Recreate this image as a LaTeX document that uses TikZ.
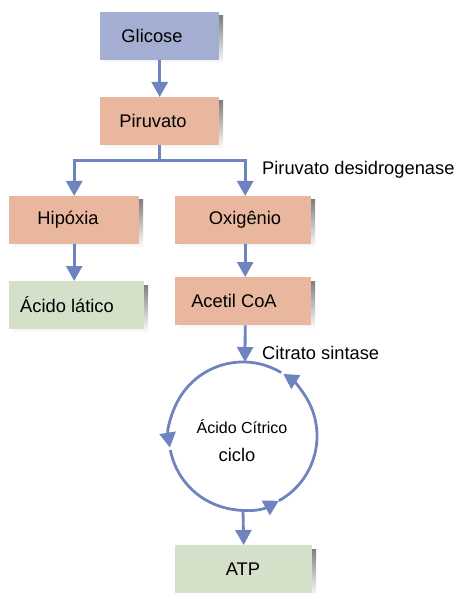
\documentclass[tikz,border=0pt]{standalone}
\usepackage{fontspec}
\setmainfont{Liberation Sans}
\usetikzlibrary{arrows.meta,calc}
\definecolor{flow}{HTML}{6F84BE}
\definecolor{boxblue}{HTML}{A3AED2}
\definecolor{boxsalmon}{HTML}{E9B69E}
\definecolor{boxgreen}{HTML}{D5E0C8}
\definecolor{shade}{HTML}{E2E2E2}
\tikzset{
  stagebox/.style={minimum width=#1, minimum height=48pt, inner sep=0pt},
  lbl/.style={font=\fontsize{18.3}{21}\selectfont, inner sep=0pt},
  flowline/.style={draw=flow, line width=2.8pt},
  flowarrow/.style={flowline, -{Triangle[length=15pt,width=16pt]}},
}
% box with a soft grey shadow down and to the right
\newcommand{\stage}[5]{%
  \fill[shade] (#3+4,#4+4) rectangle (#3+#5+4,#4+48+4);
  \node[stagebox=#5pt, fill=#2, anchor=north west] (#1) at (#3,#4) {};
}
\begin{document}
\begin{tikzpicture}[x=1pt,y=-1pt]
\useasboundingbox (0,0) rectangle (454,593);

\stage{glic}{boxblue}{100}{12}{119}
\stage{piru}{boxsalmon}{100}{97}{119}
\stage{hipo}{boxsalmon}{9}{196}{130}
\stage{oxig}{boxsalmon}{175}{196}{136}
\stage{lati}{boxgreen}{9}{281}{135}
\stage{acet}{boxsalmon}{175}{277}{136}
\stage{atp}{boxgreen}{175}{545}{137}

\node[lbl] (tglic) at (152,36) {Glicose};
\node[lbl] (tpiru) at (153,121) {Piruvato};
\node[lbl] (thipo) at (68,220) {Hipóxia};
\node[lbl] (toxig) at (245,220) {Oxigênio};
\node[lbl] (tlati) at (67,304.5) {Ácido lático};
\node[lbl] (tacet) at (234,301) {Acetil CoA};
\node[lbl] (tatp) at (243,569) {ATP};

\node[lbl, anchor=west] (pdh) at (262,170) {Piruvato desidrogenase};
\node[lbl, anchor=west] (cs) at (262,353) {Citrato sintase};

% Glicose to Piruvato
\draw[flowarrow] (glic.south) -- (piru.north);

% branch below Piruvato
\coordinate (fork) at ($(piru.south)+(0,15)$);
\draw[flowline] (piru.south) -- (fork);
\draw[flowarrow] (fork) -| (hipo.north);
\draw[flowarrow] (fork) -| ($(oxig.north)+(2,0)$);

\draw[flowarrow] (hipo.south) -- (hipo.south |- lati.north);
\draw[flowarrow] ($(oxig.south)+(2,0)$) -- ($(acet.north)+(2,0)$);

% citric acid cycle
\coordinate (cyc) at (243,436);
\draw[flowarrow] ($(acet.south)+(2,0)$) -- ($(cyc)+(2,-74)$);
\draw[flowarrow] ([shift={(61:74)}]cyc) arc[start angle=61, end angle=-57, radius=74];
\draw[flowarrow] ([shift={(-59:74)}]cyc) arc[start angle=-59, end angle=-189, radius=74];
\draw[flowarrow] ([shift={(-191:74)}]cyc) arc[start angle=-191, end angle=-299, radius=74];
\node[font=\fontsize{16}{19}\selectfont, inner sep=0pt] (cname) at (242,427) {Ácido Cítrico};
\node[lbl] (cword) at (237,455) {ciclo};

\draw[flowarrow] ($(cyc)+(0,74)$) -- (atp.north);
\end{tikzpicture}
\end{document}
